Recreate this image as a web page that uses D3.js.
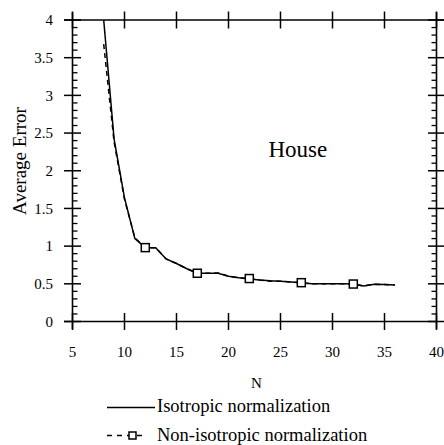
<!DOCTYPE html>
<html><head><meta charset="utf-8">
<script src="https://cdn.jsdelivr.net/npm/d3@7"></script>
<style>body{margin:0;background:#fff}svg{display:block}</style>
</head><body><svg id="c" width="444" height="445"></svg>
<script>
const isoN   = [8,9,10,11,12,13,14,15,16,17,18,19,20,21,22,23,24,25,26,27,28,29,30,31,32,33,34,35,36];
const isoVal = [4.0,2.42,1.64,1.10,0.98,0.98,0.83,0.77,0.70,0.64,0.64,0.64,0.60,0.58,0.565,0.55,0.54,0.535,0.525,0.515,0.50,0.50,0.50,0.50,0.497,0.47,0.495,0.49,0.485];
const nonN   = [8,9,10,11,12,13,14,15,16,17,18,19,20,21,22,23,24,25,26,27,28,29,30,31,32,33,34,35,36];
const nonVal = [3.68,2.38,1.62,1.11,0.98,0.98,0.83,0.77,0.70,0.64,0.64,0.645,0.60,0.58,0.57,0.55,0.535,0.535,0.525,0.515,0.50,0.50,0.50,0.50,0.497,0.472,0.495,0.49,0.485];
const markerN = [12,17,22,27,32];
const xTicks = [5,10,15,20,25,30,35,40];
const yTicks = [0,0.5,1,1.5,2,2.5,3,3.5,4];
const yTickLabels = ["0","0.5","1","1.5","2","2.5","3","3.5","4"];
const legendLabels = ["Isotropic normalization","Non-isotropic normalization"];

const FONT = "'Liberation Serif', 'Times New Roman', Times, serif";
const svg = d3.select("#c");
const L=72.5, R=436.5, T=20, B=321.5;
const x = d3.scaleLinear().domain([5,40]).range([L,R]);
const y = d3.scaleLinear().domain([0,4]).range([B,T]);

svg.append("defs").append("clipPath").attr("id","clip")
  .append("rect").attr("x",L).attr("y",T).attr("width",R-L).attr("height",B-T);

const g = svg.append("g");
const sw = 1.6;
g.append("line").attr("x1",64).attr("x2",444).attr("y1",T).attr("y2",T).attr("stroke","#000").attr("stroke-width",sw);
g.append("line").attr("x1",64).attr("x2",R).attr("y1",B).attr("y2",B).attr("stroke","#000").attr("stroke-width",sw);
g.append("line").attr("x1",L).attr("x2",L).attr("y1",12).attr("y2",329).attr("stroke","#000").attr("stroke-width",sw);
g.append("line").attr("x1",R).attr("x2",R).attr("y1",12).attr("y2",329).attr("stroke","#000").attr("stroke-width",sw);

xTicks.forEach(v=>{
  [T,B].forEach(yy=>{
    g.append("line").attr("x1",x(v)).attr("x2",x(v)).attr("y1",yy-8.5).attr("y2",yy+8.5).attr("stroke","#000").attr("stroke-width",1.5);
  });
});
yTicks.forEach(v=>{
  [L,R].forEach(xx=>{
    g.append("line").attr("x1",xx-8.5).attr("x2",xx+8.5).attr("y1",y(v)).attr("y2",y(v)).attr("stroke","#000").attr("stroke-width",1.5);
  });
});
d3.range(0,41).forEach(i=>{
  if(i%5===0) return;
  const v=i/10;
  g.append("line").attr("x1",L).attr("x2",L+5).attr("y1",y(v)).attr("y2",y(v)).attr("stroke","#000").attr("stroke-width",1.3);
  g.append("line").attr("x1",R-5).attr("x2",R).attr("y1",y(v)).attr("y2",y(v)).attr("stroke","#000").attr("stroke-width",1.3);
});

g.selectAll(".yl").data(yTicks).enter().append("text")
  .attr("x",53).attr("y",d=>y(d)).attr("dy","0.35em").attr("text-anchor","end")
  .attr("font-family",FONT).attr("font-size",15).text((d,i)=>yTickLabels[i]);
g.selectAll(".xl").data(xTicks).enter().append("text")
  .attr("x",d=>x(d)).attr("y",356.5).attr("text-anchor","middle")
  .attr("font-family",FONT).attr("font-size",15).text(d=>d);

svg.append("text").attr("transform","translate(26,161) rotate(-90)").attr("text-anchor","middle")
  .attr("font-family",FONT).attr("font-size",19).text("Average Error");
svg.append("text").attr("x",256.5).attr("y",387.5).attr("text-anchor","middle")
  .attr("font-family",FONT).attr("font-size",15).text("N");
svg.append("text").attr("x",268.5).attr("y",156.5)
  .attr("font-family",FONT).attr("font-size",23).text("House");

const line = d3.line().x(d=>x(d[0])).y(d=>y(d[1]));
const plot = svg.append("g").attr("clip-path","url(#clip)");
const nonData = nonN.map((n,i)=>[n,nonVal[i]]);
const isoData = isoN.map((n,i)=>[n,isoVal[i]]);
plot.append("path").datum(nonData).attr("d",line).attr("fill","none").attr("stroke","#000")
  .attr("stroke-width",1.5).attr("stroke-dasharray","5,4");
plot.append("path").datum(isoData).attr("d",line).attr("fill","none").attr("stroke","#000")
  .attr("stroke-width",1.5);
plot.selectAll(".m").data(markerN).enter().append("rect")
  .attr("x",d=>x(d)-4).attr("y",d=>y(nonVal[nonN.indexOf(d)])-4).attr("width",8).attr("height",8)
  .attr("fill","#fff").attr("stroke","#000").attr("stroke-width",1.5);

const lg = svg.append("g");
lg.append("line").attr("x1",107).attr("x2",155).attr("y1",407.5).attr("y2",407.5).attr("stroke","#000").attr("stroke-width",1.5);
lg.append("text").attr("x",157).attr("y",412).attr("font-family",FONT).attr("font-size",18.5).text(legendLabels[0]);
lg.append("line").attr("x1",107).attr("x2",142).attr("y1",435.5).attr("y2",435.5).attr("stroke","#000").attr("stroke-width",1.5).attr("stroke-dasharray","5,5");
lg.append("rect").attr("x",129).attr("y",432).attr("width",7).attr("height",7).attr("fill","#fff").attr("stroke","#000").attr("stroke-width",1.5);
lg.append("text").attr("x",157).attr("y",440.5).attr("font-family",FONT).attr("font-size",18.5).text(legendLabels[1]);
</script></body></html>
